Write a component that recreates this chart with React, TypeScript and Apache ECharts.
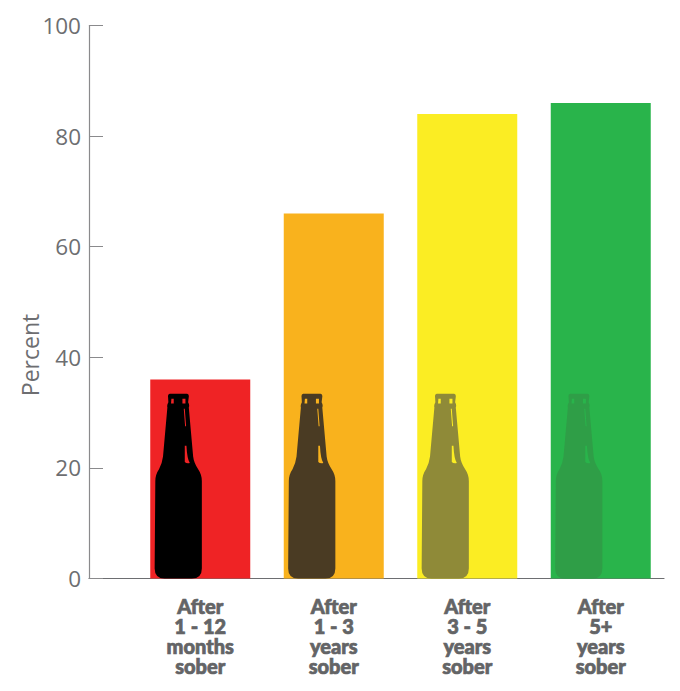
import React, { useEffect, useRef } from "react";
import * as echarts from "echarts";

const categories = [
  "After\n1 - 12\nmonths\nsober",
  "After\n1 - 3\nyears\nsober",
  "After\n3 - 5\nyears\nsober",
  "After\n5+\nyears\nsober",
];
const percentValues = [36, 66, 84, 86];
const bottleValues = [33.4, 33.4, 33.4, 33.4];
const barColors = ["#EF2325", "#F9B21D", "#FBED23", "#29B44B"];
const bottleColors = ["#000000", "#4A3B23", "#8F8A38", "#2F9E47"];
const bottlePath =
  "path://M120,75 L172,75 Q178,76 177,84 L175,100 Q180,108 177,116 L190,262 Q192,280 205,300 Q216,316 216,335 L216,595 Q216,625 186,625 L105,625 Q75,625 75,595 L77,335 Q77,316 88,300 Q98,280 100,262 L113,116 Q111,108 116,100 L115,84 Q114,76 120,75 Z " +
  "M125,90 L124,104 L132,104 L132,90 Z M158,90 L158,104 L167,104 L167,90 Z M162,120 L166,172 L169,172 L165,120 Z M165,230 L165,278 Q170,283 180,281 Q172,270 170,230 Z";

const GREY = "#6D6E71";
const LABEL_GREY = "#636466";

export default function App() {
  const ref = useRef<HTMLDivElement>(null);
  useEffect(() => {
    const chart = echarts.init(ref.current!, undefined, { renderer: "svg" });
    chart.setOption({
      animation: false,
      backgroundColor: "#FFFFFF",
      grid: [
        { left: 89, top: 25.5, width: 575, height: 553 },
        { left: 133.5, top: 25.5, width: 534, height: 553 },
      ],
      xAxis: [
        {
          gridIndex: 0,
          type: "category",
          data: [""],
          axisLine: { lineStyle: { color: GREY, width: 1.2 } },
          axisTick: { show: false },
          axisLabel: { show: false },
        },
        {
          gridIndex: 1,
          type: "category",
          data: categories,
          axisLine: { show: false },
          axisTick: { show: false },
          axisLabel: {
            interval: 0,
            margin: 17,
            color: LABEL_GREY,
            fontFamily: "Lato",
            fontWeight: 900,
            fontSize: 20,
            lineHeight: 20,
            align: "center",
            textBorderColor: LABEL_GREY,
            textBorderWidth: 0.7,
          },
        },
      ],
      yAxis: [
        {
          gridIndex: 0,
          type: "value",
          min: 0,
          max: 100,
          interval: 20,
          splitLine: { show: false },
          axisLine: { show: true, lineStyle: { color: "#8A8A8C", width: 1.2 } },
          axisTick: { show: true, inside: true, length: 14, lineStyle: { color: "#8A8A8C", width: 1 } },
          axisLabel: { color: GREY, fontFamily: "Open Sans", fontSize: 22.5, margin: 8 },
        },
        {
          gridIndex: 1,
          type: "value",
          min: 0,
          max: 100,
          show: false,
        },
      ],
      graphic: [
        {
          type: "text",
          x: 30,
          y: 355,
          rotation: Math.PI / 2,
          style: {
            text: "Percent",
            fill: GREY,
            font: '23px "Open Sans"',
            textAlign: "center",
            textVerticalAlign: "middle",
          },
        },
      ],
      series: [
        {
          type: "bar",
          xAxisIndex: 1,
          yAxisIndex: 1,
          barWidth: 100,
          barGap: "-100%",
          data: percentValues.map((value, i) => ({ value, itemStyle: { color: barColors[i] } })),
        },
        {
          type: "pictorialBar",
          xAxisIndex: 1,
          yAxisIndex: 1,
          z: 5,
          symbol: bottlePath,
          symbolSize: [47, "100%"],
          symbolPosition: "start",
          symbolOffset: [-22, 0],
          data: bottleValues.map((value, i) => ({ value, itemStyle: { color: bottleColors[i] } })),
        },
      ],
    });
    return () => chart.dispose();
  }, []);
  return (
    <div
      ref={ref}
      style={{ position: "absolute", left: 0, top: 0, width: 680, height: 691 }}
    />
  );
}
